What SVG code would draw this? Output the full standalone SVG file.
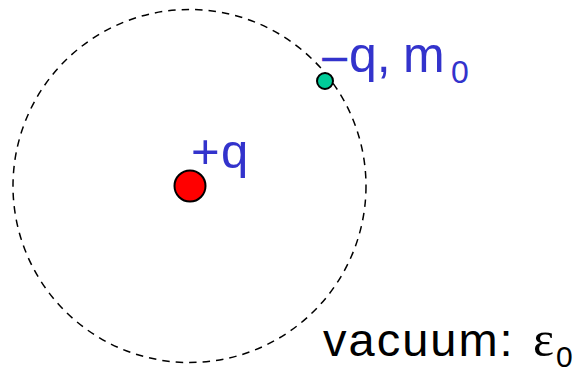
<svg xmlns="http://www.w3.org/2000/svg" width="579" height="370" viewBox="0 0 579 370">
<style>
.lbl{font-family:"Liberation Sans",Arial,sans-serif;fill:#3333cc}
.blk{font-family:"Liberation Sans",Arial,sans-serif;fill:#000}
.wide{font-family:"DejaVu Sans",sans-serif}
</style>
<rect width="579" height="370" fill="#fff"/>
<g id="connectors">
<circle id="orbit" cx="189.5" cy="186" r="176.5" fill="none" stroke="#000" stroke-width="1.5" stroke-dasharray="7.5,6"/>
</g>
<g id="nucleus">
<circle cx="190" cy="186" r="15.5" fill="#ff0000" stroke="#000" stroke-width="2"/>
<text class="lbl" x="191" y="168" font-size="49">+<tspan x="221">q</tspan></text>
</g>
<g id="electron">
<circle cx="325" cy="81" r="8" fill="#00cc99" stroke="#000" stroke-width="2"/>
<text class="lbl" x="318" y="72" font-size="50"><tspan class="wide" font-size="40">−</tspan><tspan x="349">q, </tspan><tspan x="403">m</tspan><tspan x="451" y="83" font-size="32">0</tspan></text>
</g>
<g id="medium">
<text class="blk" x="323" y="356" font-size="47" letter-spacing="2">vacuum: <tspan x="533" font-family="Liberation Serif,serif" font-size="50" letter-spacing="0">ε</tspan><tspan x="556" y="367" font-size="30" letter-spacing="0">0</tspan></text>
</g>
</svg>
